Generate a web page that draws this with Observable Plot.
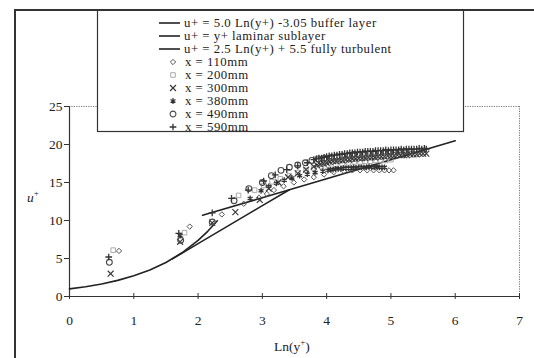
<!DOCTYPE html>
<html><head><meta charset="utf-8">
<script src="https://cdn.jsdelivr.net/npm/d3@7"></script>
<script src="https://cdn.jsdelivr.net/npm/@observablehq/plot@0.6"></script>
<style>
html,body{margin:0;padding:0;background:#fff;}
#wrap{position:relative;width:534px;height:358px;overflow:hidden;font-family:"Liberation Serif","Times New Roman",serif;color:#222;}
.lrow{position:absolute;font-size:12.8px;line-height:12px;letter-spacing:0.5px;white-space:nowrap;z-index:3;}
.lab{position:absolute;font-size:13.5px;white-space:nowrap;z-index:3;}
sup{font-size:9px;vertical-align:6px;line-height:0;}
</style></head>
<body><div id="wrap"></div>
<script>
// ---- data ----
const xTicks = [0,1,2,3,4,5,6,7];
const yTicks = [0,5,10,15,20,25];

// reference curves
const laminarX = [0, 0.25, 0.5, 0.75, 1.0, 1.25, 1.5, 1.75, 2.0, 2.15, 2.3];
const laminarU = [1.0, 1.28, 1.65, 2.12, 2.72, 3.49, 4.48, 5.75, 7.39, 8.58, 9.97];
const bufferX = [1.6, 2.0, 2.5, 3.0, 3.42];
const bufferU = [4.95, 6.95, 9.45, 11.95, 14.05];
const logX = [2.07, 3.0, 4.0, 5.0, 6.0];
const logU = [10.68, 13.0, 15.5, 18.0, 20.5];

const x110 = [0.77, 1.87, 2.37, 2.71, 2.95, 3.07, 3.18, 3.33, 3.49, 3.65, 3.80, 3.96, 4.11, 4.27, 4.40, 4.52, 4.63, 4.73, 4.82, 4.90, 4.97, 5.04];
const u110 = [6.0, 9.2, 10.8, 12.2, 13.0, 13.5, 14.0, 14.5, 15.0, 15.4, 15.7, 16.05, 16.35, 16.5, 16.6, 16.6, 16.6, 16.6, 16.6, 16.6, 16.6, 16.6];

const x200 = [0.68, 1.79, 2.63, 2.88, 3.02, 3.15, 3.28, 3.42, 3.55, 3.68, 3.80, 3.92, 4.03, 4.14, 4.24, 4.34, 4.43, 4.52, 4.60, 4.68, 4.76, 4.84, 4.92, 5.0];
const u200 = [6.1, 8.4, 13.3, 14.0, 14.6, 15.1, 15.5, 15.9, 16.3, 16.6, 16.9, 17.1, 17.3, 17.4, 17.5, 17.6, 17.7, 17.7, 17.8, 17.8, 17.9, 17.9, 17.9, 18.0];

const x300 = [0.64, 1.72, 2.22, 2.58, 2.96, 3.10, 3.25, 3.40, 3.55, 3.68,
  3.80, 3.85, 3.90, 3.95, 4.00, 4.05, 4.10, 4.15, 4.20, 4.25, 4.30, 4.35, 4.40, 4.45, 4.50, 4.55, 4.60, 4.65, 4.70, 4.75,
  4.80, 4.85, 4.90, 4.95, 5.00, 5.05, 5.10, 5.15, 5.20, 5.25, 5.30, 5.35, 5.40, 5.45, 5.50, 5.55];
const u300 = [3.0, 7.2, 9.7, 11.1, 12.7, 14.2, 15.0, 15.7, 16.2, 16.7,
  17.1, 17.3, 17.4, 17.5, 17.6, 17.7, 17.8, 17.8, 17.9, 17.9, 18.0, 18.0, 18.1, 18.1, 18.2, 18.2, 18.2, 18.3, 18.3, 18.3,
  18.4, 18.4, 18.4, 18.5, 18.5, 18.5, 18.6, 18.6, 18.6, 18.6, 18.7, 18.7, 18.7, 18.8, 18.8, 18.8];

const x380 = [1.72, 2.81, 2.98, 3.10, 3.22, 3.34, 3.46, 3.58, 3.70, 3.82, 3.94, 4.02, 4.06, 4.10, 4.14, 4.18, 4.22, 4.26, 4.30, 4.34, 4.38, 4.42, 4.46, 4.50, 4.54, 4.58, 4.62, 4.66, 4.70, 4.74, 4.78, 4.82, 4.86, 4.90];
const u380 = [8.0, 12.9, 13.9, 14.5, 14.9, 15.3, 15.6, 15.9, 16.1, 16.3, 16.5, 16.6, 16.7, 16.7, 16.8, 16.8, 16.8, 16.9, 16.9, 16.9, 16.9, 17.0, 16.9, 17.0, 17.0, 17.0, 17.0, 17.1, 17.0, 17.0, 17.1, 17.0, 17.0, 17.0];

const x490 = [0.62, 1.73, 2.22, 2.56, 2.79, 3.00, 3.14, 3.29, 3.42, 3.55, 3.67, 3.77, 3.87, 3.97, 4.07, 4.16, 4.25, 4.34, 4.42, 4.50, 4.58, 4.66, 4.74, 4.82, 4.90, 4.98, 5.06, 5.14, 5.22, 5.30];
const u490 = [4.5, 7.4, 9.8, 12.6, 14.2, 15.0, 15.9, 16.6, 17.0, 17.3, 17.6, 17.9, 18.1, 18.2, 18.3, 18.4, 18.5, 18.6, 18.7, 18.7, 18.8, 18.8, 18.9, 18.9, 19.0, 19.0, 19.0, 19.1, 19.1, 19.1];

const x590 = [0.61, 1.70, 2.22, 2.52, 2.78, 3.02, 3.20, 3.38, 3.55, 3.70,
  3.80, 3.84, 3.88, 3.92, 3.96, 4.00, 4.04, 4.08, 4.12, 4.16, 4.20, 4.24, 4.28, 4.32, 4.36, 4.40, 4.44, 4.48, 4.52, 4.56,
  4.60, 4.64, 4.68, 4.72, 4.76, 4.80, 4.84, 4.88, 4.92, 4.96, 5.00, 5.04, 5.08, 5.12, 5.16, 5.20, 5.24, 5.28, 5.32, 5.36,
  5.40, 5.44, 5.48, 5.52, 5.55];
const u590 = [5.2, 8.3, 11.0, 12.9, 14.0, 15.2, 16.0, 16.7, 17.2, 17.6,
  18.0, 18.1, 18.2, 18.2, 18.3, 18.4, 18.5, 18.5, 18.6, 18.6, 18.7, 18.7, 18.8, 18.8, 18.9, 18.9, 18.9, 19.0, 19.0, 19.0,
  19.1, 19.1, 19.1, 19.1, 19.2, 19.2, 19.2, 19.2, 19.3, 19.2, 19.3, 19.3, 19.3, 19.3, 19.4, 19.3, 19.4, 19.4, 19.4, 19.4,
  19.4, 19.5, 19.4, 19.5, 19.4];

const lineLabels = ["u+ = 5.0 Ln(y+) -3.05 buffer layer", "u+ = y+ laminar sublayer", "u+ = 2.5 Ln(y+) + 5.5 fully turbulent"];
const seriesLabels = ["x = 110mm", "x = 200mm", "x = 300mm", "x = 380mm", "x = 490mm", "x = 590mm"];

// ---- build ----
const zip = (xs, us) => xs.map((v, i) => ({x: v, u: us[i]}));
const curves = [zip(bufferX, bufferU), zip(laminarX, laminarU), zip(logX, logU)];
const styles = [
  {symbol: "diamond2", r: 2.4, stroke: "#555", sw: 1},
  {symbol: "square2", r: 2.9, stroke: "#aaa", sw: 1},
  {symbol: "times", r: 2.8, stroke: "#3a3a3a", sw: 1.2},
  {symbol: "asterisk", r: 2.7, stroke: "#333", sw: 1.3},
  {symbol: "circle", r: 2.9, stroke: "#484848", sw: 1.1},
  {symbol: "plus", r: 2.3, stroke: "#333", sw: 1.3}
];
const series = [zip(x110,u110), zip(x200,u200), zip(x300,u300), zip(x380,u380), zip(x490,u490), zip(x590,u590)];

const chart = Plot.plot({
  width: 534, height: 358,
  marginLeft: 69, marginRight: 15, marginTop: 106, marginBottom: 62,
  style: {fontFamily: "Liberation Serif, Times New Roman, serif", fontSize: "13px", color: "#222", background: "transparent", overflow: "visible"},
  x: {domain: [0, 7], label: null},
  y: {domain: [0, 25], label: null},
  marks: [
    Plot.ruleY([25], {stroke: "#777", strokeDasharray: "1.2,1.2"}),
    Plot.ruleX([7], {stroke: "#777", strokeDasharray: "1.2,1.2"}),
    Plot.axisX({ticks: xTicks, tickSize: 6, dy: -3, text: null, stroke: "#333", label: null}),
    Plot.axisX({ticks: xTicks, tickSize: 0, tickPadding: 19, fontSize: 13.5, tickFormat: d => d, label: null}),
    Plot.axisY({ticks: yTicks, tickSize: 5, tickPadding: 2, fontSize: 13.5, stroke: "#333", label: null}),
    Plot.ruleY([0], {stroke: "#333", strokeWidth: 1.2}),
    Plot.ruleX([0], {stroke: "#333", strokeWidth: 1.2}),
    ...curves.map(c => Plot.line(c, {x: "x", y: "u", stroke: "#222", strokeWidth: 1.6})),
    ...series.map((s, i) => Plot.dot(s, {x: "x", y: "u", symbol: styles[i].symbol, r: styles[i].r, stroke: styles[i].stroke, fill: "none", strokeWidth: styles[i].sw}))
  ]
});
const svg = d3.select(chart);
// legend box
svg.append("rect").attr("x", 97.5).attr("y", 10).attr("width", 366).attr("height", 121.5)
  .attr("fill", "#fff").attr("stroke", "#333").attr("stroke-width", 1.2);
const rowY = i => 23 + 13 * i;
lineLabels.forEach((t, i) => {
  svg.append("line").attr("x1", 159).attr("x2", 180).attr("y1", rowY(i)).attr("y2", rowY(i)).attr("stroke", "#222").attr("stroke-width", 1.6);
});
const symMap = {diamond2: d3.symbolDiamond2, square2: d3.symbolSquare2, times: d3.symbolTimes, asterisk: d3.symbolAsterisk, circle: d3.symbolCircle, plus: d3.symbolPlus};
styles.forEach((st, j) => {
  svg.append("path").attr("d", d3.symbol(symMap[st.symbol], st.r * st.r * Math.PI)())
    .attr("transform", `translate(173,${rowY(j + 3)})`)
    .attr("fill", "none").attr("stroke", st.stroke).attr("stroke-width", st.sw);
});

chart.style.position = "absolute"; chart.style.left = "0px"; chart.style.top = "0px";
const wrap = document.getElementById("wrap");
wrap.appendChild(chart);

// outer frame of the figure
function rule(css) { const d = document.createElement("div"); d.style.cssText = "position:absolute;z-index:5;background:#333;" + css; wrap.appendChild(d); }
rule("left:14px;top:9px;width:2px;height:349px;");
rule("left:14px;top:9px;width:520px;height:2px;");

lineLabels.forEach((t, i) => {
  const d = document.createElement("div");
  d.className = "lrow"; d.textContent = t;
  d.style.left = "184px"; d.style.top = (rowY(i) - 6) + "px";
  wrap.appendChild(d);
});
seriesLabels.forEach((t, j) => {
  const d = document.createElement("div");
  d.className = "lrow"; d.textContent = t;
  d.style.left = "185px"; d.style.top = (rowY(j + 3) - 6) + "px";
  wrap.appendChild(d);
});

const yl = document.createElement("div");
yl.className = "lab"; yl.innerHTML = "<i>u</i><sup>+</sup>";
yl.style.left = "27px"; yl.style.top = "190px";
wrap.appendChild(yl);
const xl = document.createElement("div");
xl.className = "lab"; xl.innerHTML = "Ln(y<sup>+</sup>)";
xl.style.left = "274px"; xl.style.top = "339px";
wrap.appendChild(xl);
</script></body></html>
